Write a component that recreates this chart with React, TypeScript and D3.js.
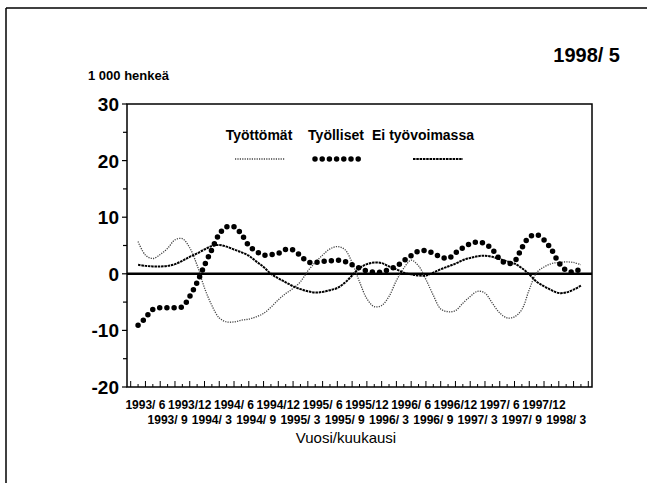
import React from "react";
import * as d3 from "d3";

// months shown on the x axis band (1993/4 .. 1998/6)
const axisMonths: string[] = [];
for (let yr = 1993; yr <= 1998; yr++) {
  for (let mo = 1; mo <= 12; mo++) {
    const key = `${yr}/${mo}`;
    if ((yr === 1993 && mo < 4) || (yr === 1998 && mo > 6)) continue;
    axisMonths.push(key);
  }
}
// data runs 1993/5 .. 1998/5
const dataMonths = axisMonths.slice(1, 62);

const tyottomat = [
  5.7, 3.3, 2.7, 3.4, 4.5, 6.0, 6.2, 4.6, 1.5, -2.5,
  -5.6, -7.8, -8.5, -8.5, -8.2, -8.0, -7.6, -7.0, -5.9, -4.6,
  -3.5, -2.6, -1.4, 0.5, 2.0, 3.3, 4.4, 4.8, 4.3, 2.0,
  -1.4, -4.4, -5.8, -5.6, -4.0, -1.2, 1.0, 2.4, 1.4, -1.0,
  -3.8, -6.2, -6.7, -6.5, -5.2, -4.0, -3.1, -3.4, -5.2, -6.9,
  -7.8, -7.6, -6.3, -2.8, 0.2, 1.2, 1.8, 2.0, 2.1, 2.0, 1.6,
];
const tyolliset = [
  -9.1, -7.8, -6.3, -6.0, -6.0, -6.0, -5.8, -4.0, -1.5, 1.5,
  4.3, 7.0, 8.3, 8.3, 7.0, 5.0, 4.0, 3.3, 3.4, 3.6,
  4.3, 4.2, 3.2, 2.1, 2.0, 2.2, 2.3, 2.4, 2.2, 1.6,
  1.0, 0.5, 0.3, 0.3, 0.8, 1.3, 2.3, 3.2, 4.0, 4.1,
  3.6, 3.0, 2.7, 3.7, 4.6, 5.3, 5.6, 5.3, 4.3, 2.6,
  1.8, 2.2, 4.6, 6.5, 6.9, 6.0, 4.3, 2.0, 0.6, 0.3, 1.0,
];
const eiTyovoimassa = [
  1.6, 1.4, 1.3, 1.3, 1.4, 1.7, 2.3, 3.0, 3.6, 4.3,
  4.9, 5.1, 4.8, 4.3, 3.8, 3.2, 2.2, 1.2, 0.0, -0.8,
  -1.5, -2.2, -2.7, -3.1, -3.3, -3.2, -2.9, -2.5, -1.6, -0.3,
  1.0, 1.7, 2.0, 1.9, 1.3, 0.8, 0.2, -0.1, -0.3, -0.3,
  0.2, 0.8, 1.3, 1.8, 2.4, 2.8, 3.1, 3.2, 3.0, 2.6,
  2.2, 1.8, 1.0, -0.1, -1.4, -2.2, -2.9, -3.4, -3.3, -2.8, -2.1,
];

const labelsRow1 = ["1993/ 6", "1993/12", "1994/ 6", "1994/12", "1995/ 6", "1995/12", "1996/ 6", "1996/12", "1997/ 6", "1997/12"];
const labelsRow2 = ["1993/ 9", "1994/ 3", "1994/ 9", "1995/ 3", "1995/ 9", "1996/ 3", "1996/ 9", "1997/ 3", "1997/ 9", "1998/ 3"];
const yTicks = [30, 20, 10, 0, -10, -20];
const yMinorTicks = [25, 15, 5, -5, -15];

const seriesNames = ["Työttömät", "Työlliset", "Ei työvoimassa"];

const W = 647;
const H = 483;
const left = 127, right = 592, top = 104, bottom = 387;
const font = "'Liberation Sans', Arial, Helvetica, sans-serif";

const styles = [
  { stroke: "#444", width: 1.3, dash: "1.2 1.2", cap: "butt" },
  { stroke: "#000", width: 5.5, dash: "0 7.2", cap: "round" },
  { stroke: "#000", width: 2, dash: "2.5 0.8", cap: "butt" },
];

export default function App() {
  const x = d3.scaleBand<string>().domain(axisMonths).range([left, right]);
  const bw = x.bandwidth();
  const cx = (m: string) => (x(m) ?? 0) + bw / 2;
  const y = d3.scaleLinear().domain([-20, 30]).range([bottom, top]);

  const line = d3
    .line<number>()
    .x((_, i) => cx(dataMonths[i]))
    .y((v) => y(v))
    .curve(d3.curveCatmullRom);

  const series = [tyottomat, tyolliset, eiTyovoimassa];
  const legendTextX = [259, 336, 423];
  const legendLineX = [260, 340, 438];
  const toKey = (lab: string) => lab.replace("/ ", "/");

  return (
    <svg width={W} height={H} style={{ position: "absolute", left: 0, top: 0, background: "#fff" }}>
      <rect width={W} height={H} fill="#fff" />
      {/* page frame */}
      <line x1={6} x2={W} y1={8} y2={8} stroke="#000" strokeWidth={1.5} />
      <line x1={6} x2={6} y1={8} y2={H} stroke="#000" strokeWidth={1.5} />

      <text x={620} y={62} textAnchor="end" fontFamily={font} fontWeight="bold" fontSize={20}>1998/ 5</text>
      <text x={88} y={80} fontFamily={font} fontWeight="bold" fontSize={13}>1 000 henkeä</text>

      {/* plot frame */}
      <rect x={left} y={top} width={right - left} height={bottom - top} fill="none" stroke="#000" strokeWidth={1.5} />

      {/* y axis */}
      {yTicks.map((t) => (
        <g key={t}>
          <line x1={left - 5} x2={left} y1={y(t)} y2={y(t)} stroke="#000" strokeWidth={1.2} />
          <text x={119} y={y(t) + 7} textAnchor="end" fontFamily={font} fontWeight="bold" fontSize={19}>{t}</text>
        </g>
      ))}
      {yMinorTicks.map((t) => (
        <line key={t} x1={left - 4} x2={left} y1={y(t)} y2={y(t)} stroke="#000" strokeWidth={1.2} />
      ))}

      {/* x ticks */}
      {axisMonths.map((m, i) => (
        <line key={m} x1={cx(m)} x2={cx(m)} y1={bottom} y2={bottom - (i % 2 === 0 ? 6 : 3)} stroke="#000" strokeWidth={1} />
      ))}
      {labelsRow1.map((lab) => (
        <text key={lab} x={cx(toKey(lab))} y={409} textAnchor="middle" fontFamily={font} fontWeight="bold" fontSize={12}>{lab}</text>
      ))}
      {labelsRow2.map((lab) => (
        <text key={lab} x={cx(toKey(lab))} y={424} textAnchor="middle" fontFamily={font} fontWeight="bold" fontSize={12}>{lab}</text>
      ))}
      <text x={346} y={443} textAnchor="middle" fontFamily={font} fontSize={15}>Vuosi/kuukausi</text>

      {/* zero line */}
      <line x1={left} x2={right} y1={y(0)} y2={y(0)} stroke="#000" strokeWidth={2.5} />

      {/* legend */}
      {seriesNames.map((name, i) => (
        <g key={name}>
          <text x={legendTextX[i]} y={140} textAnchor="middle" fontFamily={font} fontWeight="bold" fontSize={14}>{name}</text>
          <line x1={legendLineX[i] - 25} x2={legendLineX[i] + 25} y1={159} y2={159}
            stroke={styles[i].stroke} strokeWidth={styles[i].width} strokeDasharray={styles[i].dash} strokeLinecap={styles[i].cap as any} />
        </g>
      ))}

      {/* series */}
      {series.map((s, i) => (
        <path key={i} d={line(s) ?? ""} fill="none" stroke={styles[i].stroke} strokeWidth={styles[i].width}
          strokeDasharray={styles[i].dash} strokeLinecap={styles[i].cap as any} />
      ))}
    </svg>
  );
}
